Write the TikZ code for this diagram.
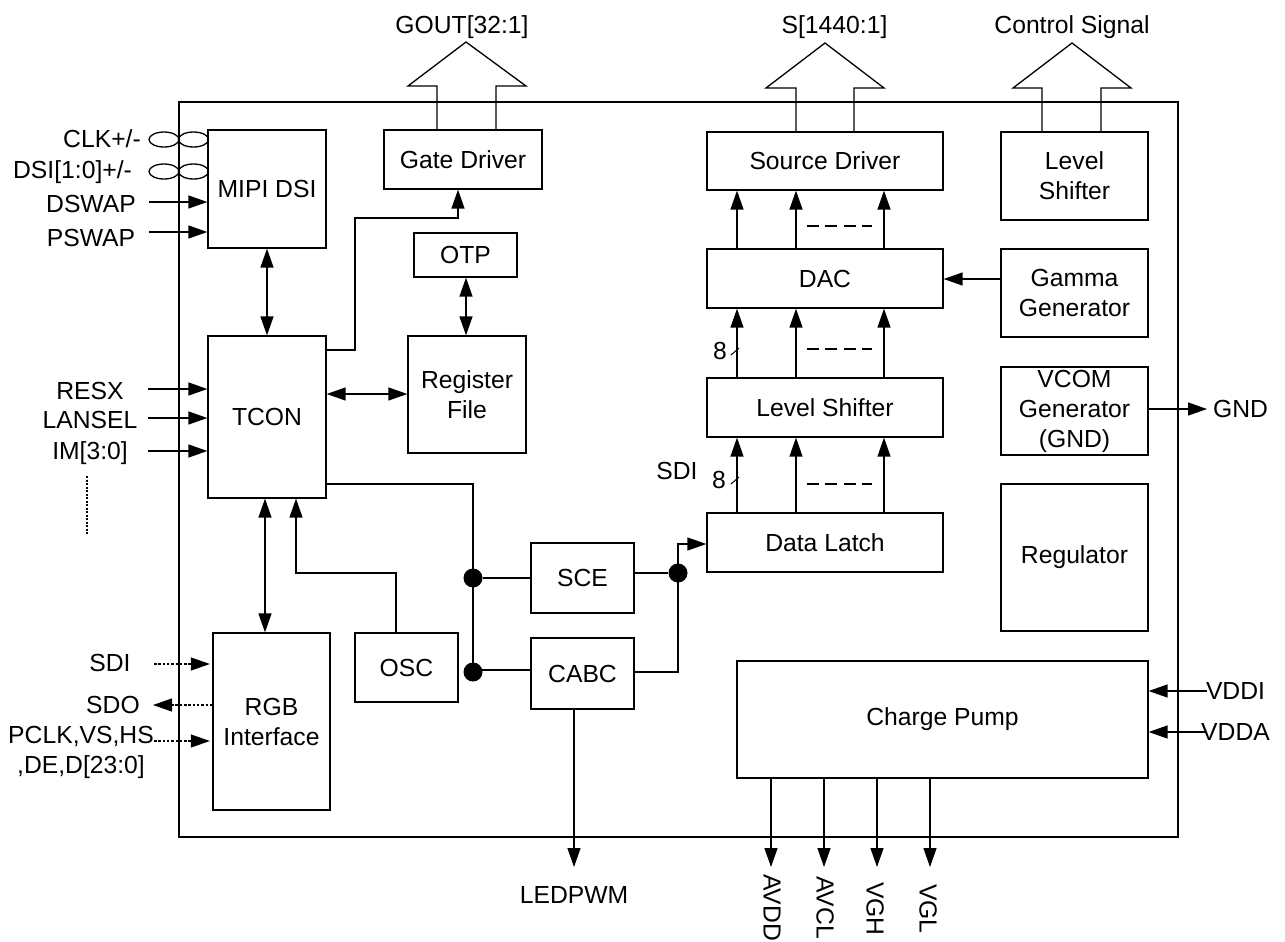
\documentclass[tikz,border=0pt]{standalone}
\usepackage{fontspec}
\setmainfont{Liberation Sans}
\usetikzlibrary{arrows.meta,calc,shapes.geometric}
\tikzset{
  box/.style={draw=black,line width=1.3pt,fill=white,align=center,inner sep=0pt,font=\fontsize{24.7}{30}\selectfont},
  lbl/.style={inner sep=0pt,align=center,font=\fontsize{24.7}{30}\selectfont},
  wire/.style={line width=1.4pt,draw=black},
  arr/.style={wire,-{Triangle[length=19pt,width=13pt]}},
  dbl/.style={wire,{Triangle[length=19pt,width=13pt]}-{Triangle[length=19pt,width=13pt]}},
  dot arr/.style={line width=1.1pt,draw=black,dash pattern=on 2.5pt off 1.8pt,-{Triangle[length=19pt,width=13pt]}},
  lens/.style={draw=black,line width=1.3pt,shape=ellipse,minimum width=30pt,minimum height=15pt,inner sep=0pt},
  jdot/.style={circle,fill=black,minimum size=19pt,inner sep=0pt},
  bigarrow/.style={line width=1.3pt,draw=black,line join=miter},
  vlbl/.style={lbl,rotate=-90,anchor=west}
}
\newcommand{\mkblock}[6]{\node[box,minimum width={(#4-#2)*1pt},minimum height={(#5-#3)*1pt}] (#1) at ({(#2+#4)/2},{(#3+#5)/2}) {#6};}
\begin{document}
\begin{tikzpicture}[x=1pt,y=-1pt]
\useasboundingbox (0,0) rectangle (1285,942);
% outer frame
\draw[line width=1.3pt] (179,102) rectangle (1178,837);

% coordinates for free ends and routing
\coordinate (dswapS) at (149,202); \coordinate (pswapS) at (149,232);
\coordinate (resxS) at (148,389); \coordinate (lanS) at (148,418); \coordinate (imS) at (148,451);
\coordinate (dotA) at (87,476); \coordinate (dotB) at (87,535);
\coordinate (sdiS) at (154,664); \coordinate (sdoE) at (153,705); \coordinate (pclkS) at (154,741);
\coordinate (gndE) at (1207,409); \coordinate (vddiS) at (1207,691); \coordinate (vddaS) at (1205,732);

% blocks
\mkblock{mipi}{208}{130}{326}{248}{MIPI DSI}
\mkblock{gate}{384}{130}{542}{189}{Gate Driver}
\mkblock{otp}{414}{233}{517}{277}{OTP}
\mkblock{tcon}{208}{336}{326}{498}{TCON}
\mkblock{reg}{408}{336}{526}{453}{Register\\File}
\mkblock{rgb}{213}{633}{330}{810}{RGB\\Interface}
\mkblock{osc}{355}{633}{458}{702}{OSC}
\mkblock{sce}{531}{543}{634}{613}{SCE}
\mkblock{cabc}{531}{638}{634}{709}{CABC}
\mkblock{src}{707}{132}{943}{190}{Source Driver}
\mkblock{dac}{707}{249}{943}{308}{DAC}
\mkblock{ls}{707}{378}{943}{437}{Level Shifter}
\mkblock{latch}{707}{513}{943}{572}{Data Latch}
\mkblock{lsr}{1001}{132}{1148}{220}{Level\\Shifter}
\mkblock{gamma}{1001}{249}{1148}{337}{Gamma\\Generator}
\mkblock{vcom}{1001}{367}{1148}{455}{VCOM\\Generator\\(GND)}
\mkblock{regu}{1001}{484}{1148}{631}{Regulator}
\mkblock{pump}{737}{661}{1148}{778}{Charge Pump}

% big output arrows
\draw[bigarrow] (gate.north -| 437,0) -- (437,86) -- (408,86) -- (466,42) -- (526,86) -- (496,86) -- (gate.north -| 496,0);
\draw[bigarrow] (src.north -| 796,0) -- (796,88) -- (766,88) -- (825,43) -- (884,88) -- (854,88) -- (src.north -| 854,0);
\draw[bigarrow] (lsr.north -| 1042,0) -- (1042,88) -- (1013,88) -- (1072,43) -- (1131,88) -- (1101,88) -- (lsr.north -| 1101,0);
\node[lbl] (gout) at (462,27) {GOUT[32:1]};
\node[lbl] (sout) at (834.5,27) {S[1440:1]};
\node[lbl] (ctl) at (1072,27) {Control Signal};

% left pins
\node[lbl] (clk) at (102,139) {CLK+/-};
\node[lbl] (dsi) at (72.5,172) {DSI[1:0]+/-};
\node[lbl] (dswap) at (91,204) {DSWAP};
\node[lbl] (pswap) at (91,238) {PSWAP};
\node[lens] (e1) at (164,139.5) {};
\node[lens] (e2) at (193.5,139.5) {};
\node[lens] (e3) at (164,171.5) {};
\node[lens] (e4) at (193.5,171.5) {};
\draw[arr] (dswapS) -- (mipi.west |- dswapS);
\draw[arr] (pswapS) -- (mipi.west |- pswapS);

\node[lbl] (resx) at (90,391) {RESX};
\node[lbl] (lan) at (90,420) {LANSEL};
\node[lbl] (im) at (90,453) {IM[3:0]};
\draw[arr] (resxS) -- (tcon.west |- resxS);
\draw[arr] (lanS) -- (tcon.west |- lanS);
\draw[arr] (imS) -- (tcon.west |- imS);
\draw[line width=1.1pt,dash pattern=on 2pt off 1.5pt] (dotA) -- (dotB);

\node[lbl] (sdi) at (110,663) {SDI};
\node[lbl] (sdo) at (113,705) {SDO};
\node[lbl] (pclk) at (81,736) {PCLK,VS,HS};
\node[lbl] (de) at (81,767) {,DE,D[23:0]};
\draw[dot arr,shorten >=2.5pt] (sdiS) -- (rgb.west |- sdiS);
\draw[dot arr] (rgb.west |- sdoE) -- (sdoE);
\draw[dot arr,shorten >=2.5pt] (pclkS) -- (rgb.west |- pclkS);

% internal links
\draw[dbl] (mipi.south -| 267,0) -- (tcon.north -| 267,0);
\draw[dbl] (tcon.south -| 265,0) -- (rgb.north -| 265,0);
\draw[dbl] (otp.south -| 466,0) -- (reg.north -| 466,0);
\draw[dbl] (tcon.east |- 0,394) -- (reg.west |- 0,394);
\draw[arr] (tcon.east |- 0,350) -- (355,350) -- (355,218) -- (458,218) -- (gate.south -| 458,0);
\coordinate (j2in) at (473,670);
\draw[wire] (tcon.east |- 0,484) -- (473,484) -- (473,672);
\node[jdot] (j1) at (473,578) {};
\node[jdot] (j2) at (473,672) {};
\draw[wire] (j1) -- (sce.west |- j1);
\draw[wire] (j2in) -- (cabc.west |- j2in);
\node[jdot] (j3) at (678,573) {};
\draw[wire] (sce.east |- j3) -- (j3);
\draw[arr] (cabc.east |- 0,672) -- (678,672) -- (678,544) -- (latch.west |- 0,544);
\draw[arr] (osc.north -| 396,0) -- (396,573) -- (296,573) -- (tcon.south -| 296,0);

% source column
\foreach \xx in {737,796,884}{
  \draw[arr] (dac.north -| \xx,0) -- (src.south -| \xx,0);
  \draw[arr] (ls.north -| \xx,0) -- (dac.south -| \xx,0);
  \draw[arr] (latch.north -| \xx,0) -- (ls.south -| \xx,0);
}
\draw[arr] (gamma.west |- 0,279) -- (dac.east |- 0,279);
\foreach \yy in {226,349,484}{
  \draw[line width=1.1pt,dash pattern=on 12pt off 6.3pt] (807,\yy) -- (872,\yy);
}
\node[lbl] (n8a) at (720,351) {8};
\node[lbl] (n8b) at (719,480) {8};
\node[lbl] (sdi2) at (677,471) {SDI};
\draw[line width=1pt] (731,355) -- (739,348);
\draw[line width=1pt] (731,484) -- (739,477);

% right pins
\node[lbl] (gnd) at (1240.5,409) {GND};
\draw[arr] (vcom.east |- gnd) -- (gndE);
\node[lbl] (vddi) at (1235.5,691) {VDDI};
\node[lbl] (vdda) at (1235.5,732) {VDDA};
\draw[arr] (vddiS) -- (pump.east |- vddi);
\draw[arr] (vddaS) -- (pump.east |- vdda);

% bottom pins
\node[lbl] (led) at (574,895) {LEDPWM};
\draw[arr] (cabc.south -| 574,0) -- (574,867);
\node[vlbl] (avdd) at (772,874) {AVDD};
\node[vlbl] (avcl) at (825,876) {AVCL};
\node[vlbl] (vgh) at (875,882) {VGH};
\node[vlbl] (vgl) at (928,884) {VGL};
\foreach \xx in {771,824,877,930}{
  \draw[arr] (pump.south -| \xx,0) -- (\xx,867);
}
\end{tikzpicture}
\end{document}
